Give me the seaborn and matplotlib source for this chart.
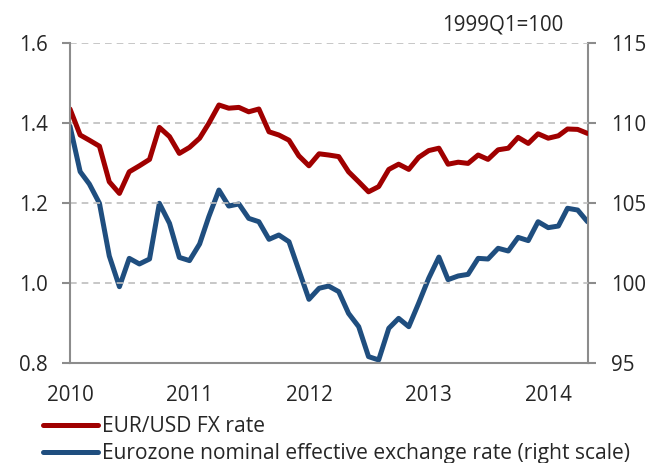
import numpy as np
import pandas as pd
import matplotlib
matplotlib.use("Agg")
import matplotlib.pyplot as plt
import seaborn as sns

# ---- data (monthly, Jan 2010 - May 2014) ----
start_month = "2010-01-01"
eurusd = [1.435, 1.370, 1.357, 1.342, 1.253, 1.224, 1.278, 1.293, 1.309, 1.389,
          1.366, 1.324, 1.339, 1.362, 1.399, 1.445, 1.437, 1.439, 1.428, 1.435,
          1.378, 1.370, 1.357, 1.318, 1.293, 1.323, 1.320, 1.316, 1.278, 1.253,
          1.228, 1.241, 1.284, 1.297, 1.284, 1.314, 1.331, 1.337, 1.297, 1.302,
          1.299, 1.320, 1.309, 1.333, 1.337, 1.364, 1.349, 1.373, 1.362, 1.368,
          1.385, 1.384, 1.374]
neer = [109.8, 106.96, 106.19, 104.98, 101.69, 99.77, 101.54, 101.19, 101.5, 104.98,
        103.73, 101.6, 101.4, 102.44, 104.14, 105.81, 104.81, 104.94, 104.04, 103.83,
        102.73, 103.0, 102.58, 100.81, 98.98, 99.67, 99.81, 99.46, 98.1, 97.27,
        95.4, 95.19, 97.17, 97.79, 97.27, 98.73, 100.3, 101.62, 100.21, 100.44,
        100.54, 101.54, 101.5, 102.17, 102.0, 102.85, 102.65, 103.83, 103.46, 103.56,
        104.67, 104.56, 103.83]
year_ticks = ["2010", "2011", "2012", "2013", "2014"]
left_ticks = [0.8, 1.0, 1.2, 1.4, 1.6]
right_ticks = [95, 100, 105, 110, 115]
label_fx = "EUR/USD FX rate"
label_neer = "Eurozone nominal effective exchange rate (right scale)"
note = "1999Q1=100"

dates = pd.date_range(start_month, periods=len(eurusd), freq="MS")
df = pd.DataFrame({"date": dates, "fx": eurusd, "neer": neer})

sns.set_style("white")
plt.rcParams["font.family"] = ["Open Sans", "DejaVu Sans"]

RED = "#A00000"
BLUE = "#1F4E7F"
SPINE = "#8C8C8C"
GRID = "#BEBEBE"
FS = 14.8
FS_LEG = 15.1

fig = plt.figure(figsize=(6.49, 4.63), dpi=100)
ax = fig.add_axes([70/649, 1-363/463, (587.5-70)/649, (363-43)/463])
ax2 = ax.twinx()

sns.lineplot(data=df, x="date", y="fx", ax=ax, color=RED, lw=3.6, label=label_fx, legend=False)
sns.lineplot(data=df, x="date", y="neer", ax=ax2, color=BLUE, lw=3.6, label=label_neer, legend=False)

ax.set_xlim(dates[0], dates[-1])
ax.set_ylim(0.8, 1.6)
ax2.set_ylim(95, 115)
ax.set_yticks(left_ticks)
ax.set_yticklabels([f"{v:.1f}" for v in left_ticks], fontsize=FS)
ax2.set_yticks(right_ticks)
ax2.set_yticklabels([str(v) for v in right_ticks], fontsize=FS)
ax.set_xticks(pd.to_datetime([f"{y}-01-01" for y in year_ticks]))
ax.set_xticklabels(year_ticks, fontsize=FS)
ax.set_xlabel("")
ax.set_ylabel("")
ax2.set_ylabel("")

for v in left_ticks[1:]:
    ax.axhline(v, color=GRID, lw=1.2, ls=(0, (4, 3)), zorder=0)

for a in (ax, ax2):
    a.spines["top"].set_visible(False)
    for s in ("left", "right", "bottom"):
        a.spines[s].set_color(SPINE)
        a.spines[s].set_linewidth(1.5)
ax.spines["right"].set_visible(False)
ax2.spines["left"].set_visible(False)
ax2.spines["bottom"].set_visible(False)

ax.tick_params(axis="y", direction="out", length=6, width=1.5, color=SPINE, pad=10)
ax2.tick_params(axis="y", direction="out", length=6, width=1.5, color=SPINE, pad=11)
ax.tick_params(axis="x", direction="out", length=6, width=1.5, color=SPINE, pad=10)
ax.set_zorder(ax2.get_zorder() + 1)
ax.patch.set_visible(False)

fig.text(503/649, 1-25/463, note, fontsize=FS, ha="center", va="center")

handles = [ax.get_lines()[0], ax2.get_lines()[0]]
fig.legend(handles, [label_fx, label_neer], loc="upper left",
           bbox_to_anchor=(43/649, 1-416/463), frameon=False, fontsize=FS_LEG,
           handlelength=2.6, handletextpad=0.2, labelspacing=0.3,
           borderaxespad=0, borderpad=0)

fig.savefig("out.png", dpi=100)
